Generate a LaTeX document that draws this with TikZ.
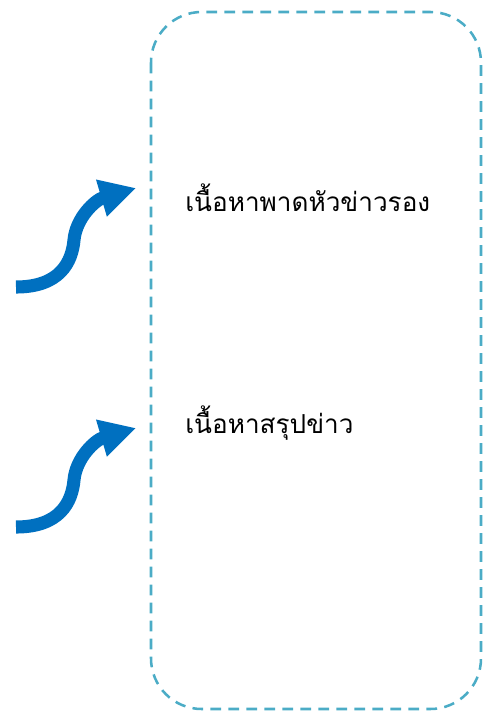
\documentclass[tikz,border=0pt]{standalone}
\usepackage{fontspec}
\newfontfamily\thaifont[Script=Thai]{Loma}
\usetikzlibrary{arrows.meta}
\definecolor{arrowblue}{HTML}{0070C0}
\definecolor{boxteal}{HTML}{4BACC6}
\begin{document}
\begin{tikzpicture}[x=0.75pt,y=-0.75pt,
    bluearrow/.style={arrowblue,line width=9.8pt,-{Triangle[length=27pt,width=27pt]}},
    boxline/.style={boxteal,line width=1.9pt,dash pattern=on 8pt off 5.5pt,rounded corners=38pt},
    thaitext/.style={anchor=base west,inner sep=0pt,font=\thaifont\fontsize{19.6}{24}\selectfont}]
            \useasboundingbox (0,0) rectangle (486,711);
            \draw[boxline] (151,12) rectangle (481,709);
            \node[thaitext] (head) at (185,211) {เนื้อหาพาดหัวข่าวรอง};
            \node[thaitext] (summ) at (185,433) {เนื้อหาสรุปข่าว};
            \coordinate (s1) at (16,287); \coordinate (t1) at (136,188);
            \coordinate (s2) at (16,527); \coordinate (t2) at (136,428);
            \draw[bluearrow] (s1) .. controls (60,287) and (72,262) .. (74,240) .. controls (76,218) and (95,200) .. (t1);
            \draw[bluearrow] (s2) .. controls (60,527) and (72,502) .. (74,480) .. controls (76,458) and (95,440) .. (t2);
        \end{tikzpicture}
\end{document}
